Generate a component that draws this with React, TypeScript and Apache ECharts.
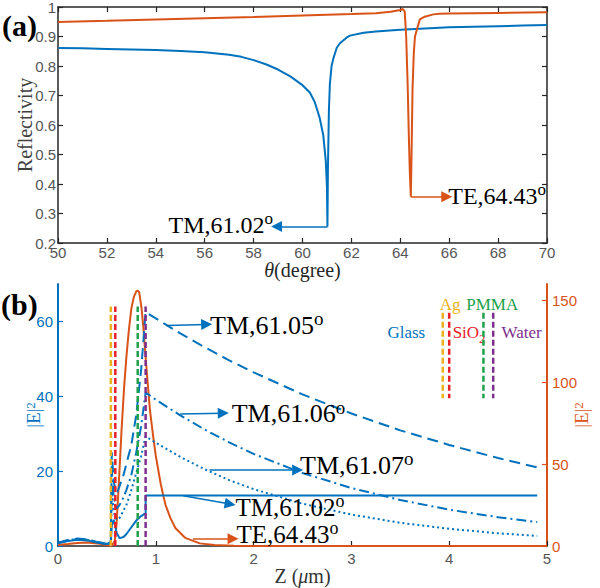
import React, { useEffect, useRef } from "react";
import * as echarts from "echarts";

const BLUE = "#0072BD";
const ORANGE = "#D95319";
const YELLOW = "#EDB120";
const RED = "#E8202A";
const GREEN = "#20A048";
const PURPLE = "#7E2F8E";
const DARK = "#262626";
const GRAY = "#555555";
const SERIF = "'Liberation Serif', 'Times New Roman', serif";
const SANS = "'Liberation Sans', Arial, Helvetica, sans-serif";

// ---------- panel (a): reflectivity vs angle ----------
const thetaTM = [50, 51, 52, 53, 54, 55, 56, 57, 57.5, 58, 58.5, 59, 59.5, 60, 60.3, 60.5, 60.7, 60.85, 60.95, 61.0, 61.02, 61.04, 61.08, 61.12, 61.19, 61.26, 61.4, 61.53, 61.8, 61.94, 62.5, 63, 64, 65, 66, 67, 68, 69, 70];
const reflTM = [0.861, 0.86, 0.858, 0.856, 0.854, 0.851, 0.847, 0.838, 0.831, 0.82, 0.806, 0.788, 0.765, 0.735, 0.71, 0.678, 0.625, 0.565, 0.48, 0.39, 0.255, 0.45, 0.65, 0.74, 0.8, 0.825, 0.862, 0.877, 0.896, 0.903, 0.913, 0.917, 0.923, 0.927, 0.931, 0.933, 0.935, 0.937, 0.939];

const thetaTE = [50, 52, 54, 56, 58, 60, 62, 63, 63.6, 64, 64.1, 64.18, 64.24, 64.3, 64.35, 64.39, 64.43, 64.46, 64.5, 64.55, 64.6, 64.7, 64.8, 65, 65.35, 65.6, 66, 67, 68, 70];
const reflTE = [0.949, 0.953, 0.958, 0.962, 0.966, 0.971, 0.976, 0.979, 0.984, 0.99, 0.993, 0.985, 0.9, 0.74, 0.56, 0.44, 0.357, 0.5, 0.72, 0.84, 0.9, 0.93, 0.958, 0.967, 0.975, 0.977, 0.978, 0.979, 0.98, 0.982];

// ---------- panel (b): |E|^2 vs Z ----------
const zTM02 = [0, 0.1, 0.2, 0.3, 0.4, 0.5, 0.54, 0.55, 0.57, 0.6, 0.63, 0.67, 0.7, 0.75, 0.8, 0.85, 0.896, 0.896, 4.9];
const eTM02 = [0.7, 1.3, 1.7, 1.5, 0.9, 0.5, 0.8, 5.5, 7, 3.5, 2.1, 2.4, 3.2, 5, 6.8, 8, 8.8, 13.5, 13.5];

const zTM = [0, 0.1, 0.2, 0.3, 0.4, 0.5, 0.54, 0.55, 0.57, 0.6, 0.63, 0.67, 0.7, 0.75, 0.8, 0.85, 0.896, 1.0, 1.25, 1.5, 1.75, 2, 2.5, 3, 3.5, 4, 4.5, 4.9];
const eTM05 = [0.9, 1.6, 2.0, 1.8, 1.1, 0.6, 1.0, 25, 17, 14, 16, 19, 22, 27, 35, 47, 62.5, 60.8, 56.8, 53.1, 49.6, 46.4, 40.5, 35.4, 30.9, 27.0, 23.5, 21.0];
const eTM06 = [0.8, 1.5, 1.9, 1.7, 1.0, 0.6, 0.9, 20, 13, 10, 11, 13, 15, 19, 25, 32, 41, 39.1, 34.9, 31.1, 27.7, 24.6, 19.5, 15.5, 12.3, 9.7, 7.7, 6.4];
const eTM07 = [0.8, 1.4, 1.8, 1.6, 1.0, 0.5, 0.9, 15, 9, 7, 7.5, 9.5, 11, 15, 19.5, 24, 29.3, 27.6, 23.8, 20.5, 17.6, 15.2, 11.3, 8.4, 6.2, 4.6, 3.4, 2.7];

const zTE = [0, 0.1, 0.2, 0.3, 0.4, 0.5, 0.55, 0.58, 0.6, 0.625, 0.65, 0.675, 0.7, 0.725, 0.75, 0.775, 0.8, 0.815, 0.83, 0.855, 0.875, 0.9, 0.94, 0.975, 1.0, 1.05, 1.08, 1.1, 1.15, 1.2, 1.3, 1.45, 1.6, 1.8, 2.0, 3, 4, 5];
const eTE = [0.6, 1.2, 1.9, 2.2, 1.6, 0.6, 0.2, 3, 14, 42, 71, 96, 116, 132, 145, 152, 155.5, 156, 155, 145, 132, 112, 83, 66, 55, 38, 30, 25, 17, 11, 5, 1.6, 0.6, 0.2, 0, 0, 0, 0];

const layerNames = ["Ag", "SiO2", "PMMA", "Water"];
const layerBounds = [0.54, 0.586, 0.815, 0.896];
const layerTop = 64;
const layerColors = [YELLOW, RED, GREEN, PURPLE];
const keyLineZ = [3.934, 4.0, 4.35, 4.45];
const keyLineRange = [62.3, 39.5];

const leftTicks = [0, 20, 40, 60];
const rightTicks = [0, 50, 100, 150];

const pairs = (xs: number[], ys: number[]) => xs.map((x, i) => [x, ys[i]]);

const labelText = (color: string, size: number) => {
  const sup = Math.round(size * 0.72);
  return {
    color,
    fontFamily: SERIF,
    fontSize: size,
    lineHeight: sup + 13,
    rich: {
      s: { fontFamily: SERIF, fontSize: sup, color, verticalAlign: "top", lineHeight: sup },
    },
  };
};

const arrowLine = (from: number[], to: number[], color: string, width = 1.5) => ({
  silent: true,
  symbol: ["none", "triangle"],
  symbolSize: 11,
  label: { show: false },
  lineStyle: { color, width, type: "solid" },
  emphasis: { disabled: true },
  data: [[{ coord: from }, { coord: to }]],
});

const textPoint = (coord: number[], text: string, position: string, distance = 2, size = 26) => ({
  silent: true,
  symbol: "circle",
  symbolSize: 1,
  itemStyle: { color: "rgba(0,0,0,0)" },
  emphasis: { disabled: true },
  data: [
    {
      coord,
      label: { show: true, position, distance, formatter: text, ...labelText("#000", size) },
    },
  ],
});

export default function App() {
  const ref = useRef<HTMLDivElement>(null);
  useEffect(() => {
    if (!ref.current) return;
    const chart = echarts.init(ref.current, null, { renderer: "svg" });
    const tickLbl = { color: GRAY, fontFamily: SANS, fontSize: 15 };
    const darkLine = { show: true, onZero: false, lineStyle: { color: DARK, width: 1.5 } };
    const inTick = (color: string) => ({ show: true, inside: true, length: 5, lineStyle: { color, width: 1.2 } });

    const layerSeries = layerBounds.map((b, i) => ({
      type: "line",
      xAxisIndex: 2,
      yAxisIndex: 2,
      showSymbol: false,
      silent: true,
      z: 5,
      data: [[b, 0], [b, layerTop]],
      lineStyle: { color: layerColors[i], width: 2.5, type: [6, 3] },
    }));

    const keyText = (coord: number[], text: string, pos: string, color: string) => ({
      silent: true,
      symbol: "circle",
      symbolSize: 1,
      itemStyle: { color: "rgba(0,0,0,0)" },
      data: [
        {
          coord,
          label: {
            show: true,
            position: pos,
            distance: 1,
            formatter: text,
            color,
            fontFamily: SERIF,
            fontSize: 17,
            lineHeight: 25,
            rich: { b: { fontFamily: SERIF, fontSize: 13, color, verticalAlign: "bottom", lineHeight: 13 } },
          },
        },
      ],
    });

    const keyLabels: any[] = [
      keyText([4.01, 64.5], layerNames[0], "inside", YELLOW),
      keyText([4.02, 57], "SiO{b|2}", "right", RED),
      keyText([4.44, 64.5], layerNames[2], "inside", GREEN),
      keyText([4.52, 57], layerNames[3], "right", PURPLE),
    ];

    const keySeries: any[] = keyLineZ.map((zk, i) => ({
      type: "line",
      xAxisIndex: 2,
      yAxisIndex: 2,
      showSymbol: false,
      silent: true,
      z: 5,
      data: [[zk, keyLineRange[0]], [zk, keyLineRange[1]]],
      lineStyle: { color: layerColors[i], width: 2.5, type: [6, 3] },
      markPoint: keyLabels[i],
    }));
    keySeries.push({
      type: "line",
      xAxisIndex: 2,
      yAxisIndex: 2,
      showSymbol: false,
      silent: true,
      data: [],
      markPoint: keyText([3.77, 57], "Glass", "left", BLUE),
    });

    const supName = (color: string) => ({
      fontFamily: SERIF, fontSize: 19, color,
      rich: { s: { fontFamily: SERIF, fontSize: 13, color, verticalAlign: "top", lineHeight: 13 } },
    });

    const option: any = {
      animation: false,
      backgroundColor: "#fff",
      grid: [
        { left: 58, top: 7, width: 489, height: 236, outerBoundsMode: "none", containLabel: false },
        { left: 58, top: 284, width: 489, height: 262, outerBoundsMode: "none", containLabel: false },
      ],
      xAxis: [
        {
          gridIndex: 0, type: "value", min: 50, max: 70, interval: 2, position: "bottom",
          axisLine: darkLine, axisTick: inTick(DARK), splitLine: { show: false },
          axisLabel: { ...tickLbl, margin: 2 },
          name: "{i|θ}(degree)", nameLocation: "middle", nameGap: 17, nameMoveOverlap: false,
          nameTextStyle: { fontFamily: SERIF, fontSize: 20, color: DARK, rich: { i: { fontFamily: SERIF, fontSize: 20, fontStyle: "italic", color: DARK } } },
        },
        {
          gridIndex: 0, type: "value", min: 50, max: 70, interval: 2, position: "top",
          axisLine: darkLine, axisTick: inTick(DARK), splitLine: { show: false }, axisLabel: { show: false },
        },
        {
          gridIndex: 1, type: "value", min: 0, max: 5, interval: 1, position: "bottom",
          axisLine: darkLine, axisTick: inTick(DARK), splitLine: { show: false },
          axisLabel: { ...tickLbl, margin: 5 },
          name: "Z ({i|μ}m)", nameLocation: "middle", nameGap: 20, nameMoveOverlap: false,
          nameTextStyle: { fontFamily: SERIF, fontSize: 20, color: "#333", rich: { i: { fontFamily: SERIF, fontSize: 20, fontStyle: "italic", color: "#333" } } },
        },
      ],
      yAxis: [
        {
          gridIndex: 0, type: "value", min: 0.2, max: 1, interval: 0.1, position: "left",
          axisLine: darkLine, axisTick: inTick(DARK), splitLine: { show: false },
          axisLabel: { ...tickLbl, margin: 2 },
          name: "Reflectivity", nameLocation: "middle", nameGap: 23, nameMoveOverlap: false,
          nameTextStyle: { fontFamily: SERIF, fontSize: 20, color: "#404040" },
        },
        {
          gridIndex: 0, type: "value", min: 0.2, max: 1, interval: 0.1, position: "right",
          axisLine: darkLine, axisTick: inTick(DARK), splitLine: { show: false }, axisLabel: { show: false },
        },
        {
          gridIndex: 1, type: "value", min: 0, max: 70, position: "left",
          axisLine: { show: true, onZero: false, lineStyle: { color: BLUE, width: 2 } },
          axisTick: { ...inTick(BLUE), customValues: leftTicks },
          axisLabel: { color: BLUE, fontFamily: SANS, fontSize: 15, margin: 5, customValues: leftTicks },
          splitLine: { show: false },
          name: "|E|{s|2}", nameLocation: "middle", nameGap: 15, nameMoveOverlap: false,
          nameTextStyle: supName(BLUE),
        },
        {
          gridIndex: 1, type: "value", min: 0, max: 160, position: "right",
          axisLine: { show: true, onZero: false, lineStyle: { color: ORANGE, width: 2 } },
          axisTick: { ...inTick(ORANGE), customValues: rightTicks },
          axisLabel: { color: ORANGE, fontFamily: SANS, fontSize: 15, margin: 5, customValues: rightTicks },
          splitLine: { show: false },
          name: "|E|{s|2}", nameLocation: "middle", nameGap: 25, nameRotate: 90, nameMoveOverlap: false,
          nameTextStyle: supName(ORANGE),
        },
      ],
      graphic: [
        { type: "text", left: 2, top: 10, style: { text: "(a)", font: `bold 30px ${SERIF}`, fill: "#000" } },
        { type: "text", left: 1, top: 289, style: { text: "(b)", font: `bold 30px ${SERIF}`, fill: "#000" } },
      ],
      series: [
        {
          name: "TM a", type: "line", xAxisIndex: 0, yAxisIndex: 0, showSymbol: false,
          data: pairs(thetaTM, reflTM), lineStyle: { color: BLUE, width: 2 }, itemStyle: { color: BLUE },
          markLine: arrowLine([61.02, 0.256], [58.94, 0.256], BLUE),
          markPoint: textPoint([58.94, 0.262], "TM,61.02{s|o}", "left", 3, 24),
        },
        {
          name: "TE a", type: "line", xAxisIndex: 0, yAxisIndex: 0, showSymbol: false,
          data: pairs(thetaTE, reflTE), lineStyle: { color: ORANGE, width: 2 }, itemStyle: { color: ORANGE },
          markLine: arrowLine([64.43, 0.357], [65.9, 0.357], ORANGE),
          markPoint: textPoint([65.9, 0.36], "TE,64.43{s|o}", "right", 1, 24),
        },
        {
          name: "TE b", type: "line", xAxisIndex: 2, yAxisIndex: 3, showSymbol: false,
          data: pairs(zTE, eTE), lineStyle: { color: ORANGE, width: 2 }, itemStyle: { color: ORANGE },
          markLine: arrowLine([1.38, 4.5], [1.79, 4.5], ORANGE),
          markPoint: textPoint([1.81, 6.8], "TE,64.43{s|o}", "right", 1, 25),
        },
        {
          name: "TM 61.02", type: "line", xAxisIndex: 2, yAxisIndex: 2, showSymbol: false,
          data: pairs(zTM02, eTM02), lineStyle: { color: BLUE, width: 2 }, itemStyle: { color: BLUE },
          markLine: arrowLine([1.28, 13.4], [1.76, 11.2], BLUE),
          markPoint: textPoint([1.8, 10.2], "TM,61.02{s|o}", "right", 1, 25),
        },
        {
          name: "TM 61.05", type: "line", xAxisIndex: 2, yAxisIndex: 2, showSymbol: false,
          data: pairs(zTM, eTM05), lineStyle: { color: BLUE, width: 2, type: [11, 6] }, itemStyle: { color: BLUE },
          markLine: arrowLine([1.11, 58.9], [1.52, 59.2], BLUE),
          markPoint: textPoint([1.54, 59], "TM,61.05{s|o}", "right", 1, 26),
        },
        {
          name: "TM 61.06", type: "line", xAxisIndex: 2, yAxisIndex: 2, showSymbol: false,
          data: pairs(zTM, eTM06), lineStyle: { color: BLUE, width: 2, type: [10, 4, 2, 4] }, itemStyle: { color: BLUE },
          markLine: arrowLine([1.25, 35.3], [1.69, 35.5], BLUE),
          markPoint: textPoint([1.76, 35.3], "TM,61.06{s|o}", "right", 1, 26),
        },
        {
          name: "TM 61.07", type: "line", xAxisIndex: 2, yAxisIndex: 2, showSymbol: false,
          data: pairs(zTM, eTM07), lineStyle: { color: BLUE, width: 2, type: [2, 3] }, itemStyle: { color: BLUE },
          markLine: arrowLine([1.55, 20.3], [2.45, 20.3], BLUE),
          markPoint: textPoint([2.46, 21.6], "TM,61.07{s|o}", "right", 1, 26),
        },
        ...layerSeries,
        ...keySeries,
      ],
    };
    chart.setOption(option);
    return () => chart.dispose();
  }, []);
  return <div ref={ref} style={{ position: "fixed", left: 0, top: 0, width: 600, height: 588, background: "#fff" }} />;
}
